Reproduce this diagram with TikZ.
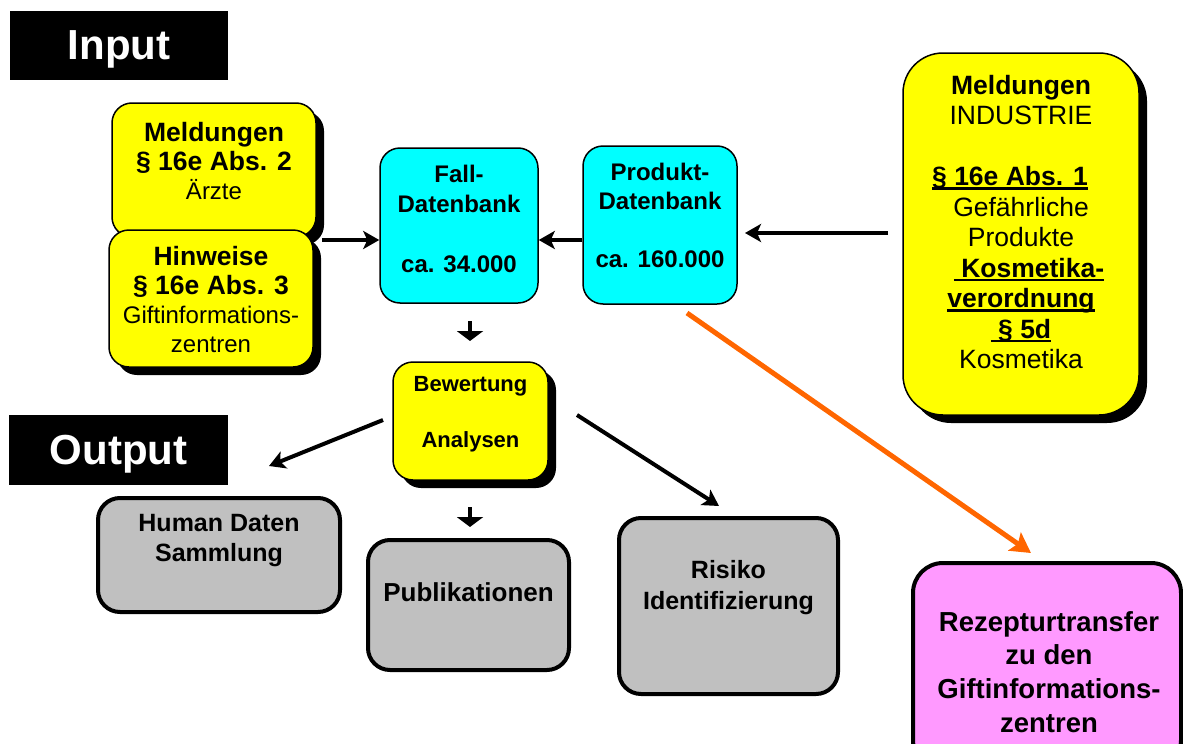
\documentclass[tikz,border=0pt]{standalone}
\usepackage{fontspec}
\setmainfont{Liberation Sans}
\usetikzlibrary{arrows.meta,shadows}
\definecolor{yellowc}{HTML}{FFFF00}
\definecolor{cyanc}{HTML}{00FFFF}
\definecolor{grayc}{HTML}{C0C0C0}
\definecolor{pinkc}{HTML}{FF99FF}
\definecolor{orangec}{HTML}{FF6600}
\newcommand{\fs}[2]{\fontsize{#1}{#2}\selectfont}
\newcommand{\ulbox}[1]{\setbox0\hbox{#1}\rlap{\rule[-4pt]{\wd0}{2.4pt}}\box0}
\tikzset{
  box/.style={rectangle, inner sep=0pt, draw=black},
  ybox/.style={box, line width=1.5pt, fill=yellowc, rounded corners=20pt,
    drop shadow={shadow xshift=8pt, shadow yshift=-8pt, fill=black, opacity=1}},
  cbox/.style={box, line width=1.5pt, fill=cyanc, rounded corners=20pt},
  gbox/.style={box, line width=4pt, fill=grayc, rounded corners=22pt},
  pbox/.style={box, line width=4pt, fill=pinkc, rounded corners=30pt},
  tag/.style={rectangle, inner sep=0pt, fill=black, text=white, text depth=0pt, font=\fs{42}{48}\bfseries},
  txt/.style={align=center, inner sep=0pt},
  arr/.style={line width=4pt, -{Stealth[length=16pt,width=18pt,inset=4pt]}},
  darr/.style={line width=4pt, -{Triangle[length=10pt,width=26pt]}},
  oarr/.style={line width=5pt, draw=orangec, -{Stealth[length=20pt,width=22pt,inset=4pt]}},
}
\begin{document}
\begin{tikzpicture}[x=1pt,y=-1pt]
\path[use as bounding box] (0,0) rectangle (1183,744);

% tags
\node[tag, minimum width=218pt, minimum height=69pt] (input) at (119,45.5) {Input};
\node[tag, minimum width=219pt, minimum height=70pt] (output) at (118.5,450) {Output};

% input boxes
\node[ybox, minimum width=204pt, minimum height=134pt] (meld) at (214,170) {};
\node[txt, font=\fs{26.5}{29}] (meldt) at (214,161) {\bfseries Meldungen\\\bfseries \S\ 16e Abs. 2\\\fs{24}{29}Ärzte};
\node[ybox, minimum width=204pt, minimum height=137pt] (hinw) at (211,298.5) {};
\node[txt, font=\fs{26.5}{29}] (hinwt) at (211,300) {\bfseries Hinweise\\\bfseries \S\ 16e Abs. 3\\\fs{24}{28}Giftinformations-\\\fs{24}{28}zentren};

\node[cbox, minimum width=158pt, minimum height=155pt] (fall) at (459,225.5) {};
\node[txt, font=\fs{24}{30}\bfseries] (fallt) at (459,219) {Fall-\\Datenbank\\[30pt]ca. 34.000};
\node[cbox, minimum width=154pt, minimum height=158pt] (prod) at (660,225) {};
\node[txt, font=\fs{24}{29}\bfseries] (prodt) at (660,215) {Produkt-\\Datenbank\\[29pt]ca. 160.000};

\node[ybox, rounded corners=40pt, minimum width=236pt, minimum height=362pt] (ind) at (1021,234) {};
\node[txt, font=\fs{26.5}{30.5}] (indt) at (1021,222) {\bfseries Meldungen\\INDUSTRIE\\[30.5pt]
  \bfseries\ulbox{\S\ 16e Abs. 1}\kern22pt\hbox{}\\Gefährliche\\Produkte\\
  \bfseries\hbox{}\kern16pt\ulbox{\ Kosmetika-}\\\bfseries\ulbox{verordnung}\\\bfseries\ulbox{\ \S\ 5d}\\Kosmetika};

% evaluation
\node[ybox, minimum width=155pt, minimum height=118pt] (bew) at (470.5,421) {};
\node[txt, font=\fs{22}{28}\bfseries] (bewt) at (470.5,414) {Bewertung\\[28pt]Analysen};

% outputs
\node[gbox, minimum width=242pt, minimum height=114pt] (human) at (219,555) {};
\node[txt, font=\fs{25}{30}\bfseries] (humant) at (219,541) {Human Daten\\Sammlung};
\node[gbox, minimum width=201pt, minimum height=130pt] (publ) at (468.5,605) {};
\node[txt, font=\fs{26}{30}\bfseries] (publt) at (468.5,592) {Publikationen};
\node[gbox, minimum width=219pt, minimum height=176pt] (risk) at (728.5,606) {};
\node[txt, font=\fs{25}{31}\bfseries] (riskt) at (728.5,588) {Risiko\\Identifizierung};
\node[pbox, minimum width=268pt, minimum height=207pt] (rez) at (1047,666.5) {};
\node[txt, font=\fs{27.5}{33.7}\bfseries] (rezt) at (1049,672) {Rezepturtransfer\\zu den\\Giftinformations-\\zentren};

% connector end points
\coordinate (a1) at (322,240);
\coordinate (a3) at (888,233);
\coordinate (a3e) at (745,233);
\coordinate (d1) at (470,321);
\coordinate (d1e) at (470,341);
\coordinate (d2) at (470,507);
\coordinate (d2e) at (470,527);
\coordinate (l1) at (383,420);
\coordinate (l1e) at (269,466);
\coordinate (r1) at (577,415);
\coordinate (r1e) at (719,506);
\coordinate (o1) at (687,313);
\coordinate (o1e) at (1031,553);

% connectors
\draw[arr] (a1) -- (fall.west |- a1);
\draw[arr] (prod.west |- a1) -- (fall.east |- a1);
\draw[arr] (a3) -- (a3e);
\draw[darr] (d1) -- (d1e);
\draw[darr] (d2) -- (d2e);
\draw[arr] (l1) -- (l1e);
\draw[arr] (r1) -- (r1e);
\draw[oarr] (o1) -- (o1e);
\end{tikzpicture}
\end{document}
